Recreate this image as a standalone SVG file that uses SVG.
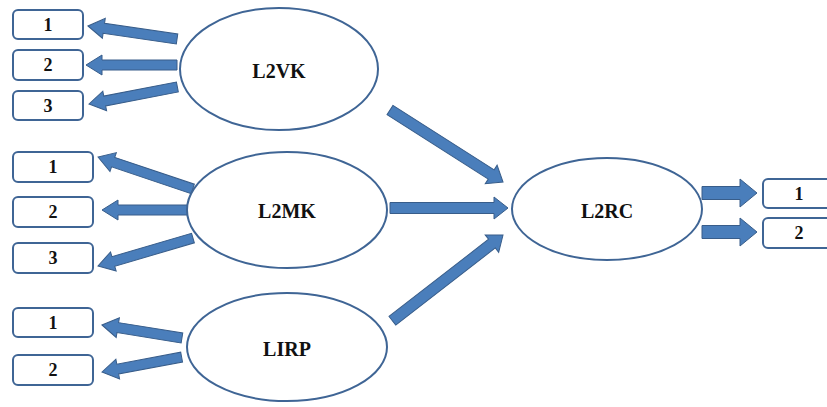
<svg xmlns="http://www.w3.org/2000/svg" width="827" height="407" viewBox="0 0 827 407">
<style>
.ell{fill:#fff;stroke:#3f6595;stroke-width:2}
.box{fill:#fff;stroke:#3f6595;stroke-width:2}
.lab{font-family:"Liberation Serif","Times New Roman",serif;font-weight:bold;font-size:20px;text-anchor:middle;fill:#111}
.num{font-family:"Liberation Serif","Times New Roman",serif;font-weight:bold;font-size:18px;text-anchor:middle;fill:#111}
.arr{fill:#4a7ebb;stroke:#385d8a;stroke-width:1}
</style>
<rect width="827" height="407" fill="#fff"/>
<g id="connectors">
<path class="arr" transform="translate(88,26) rotate(188.3)" d="M0,0 L-16,-10 L-16,-5 L-90,-5 L-90,5 L-16,5 L-16,10 Z"/>
<path class="arr" transform="translate(86,65) rotate(180)" d="M0,0 L-16,-10 L-16,-5 L-91,-5 L-91,5 L-16,5 L-16,10 Z"/>
<path class="arr" transform="translate(89,104) rotate(169.1)" d="M0,0 L-16,-10 L-16,-5 L-90,-5 L-90,5 L-16,5 L-16,10 Z"/>
<path class="arr" transform="translate(98,157) rotate(198.6)" d="M0,0 L-16,-10 L-16,-5 L-100,-5 L-100,5 L-16,5 L-16,10 Z"/>
<path class="arr" transform="translate(102,210) rotate(180)" d="M0,0 L-16,-10 L-16,-5 L-88,-5 L-88,5 L-16,5 L-16,10 Z"/>
<path class="arr" transform="translate(98,266) rotate(163.6)" d="M0,0 L-16,-10 L-16,-5 L-99,-5 L-99,5 L-16,5 L-16,10 Z"/>
<path class="arr" transform="translate(102,325) rotate(189.2)" d="M0,0 L-16,-10 L-16,-5 L-81,-5 L-81,5 L-16,5 L-16,10 Z"/>
<path class="arr" transform="translate(102,372) rotate(169.4)" d="M0,0 L-16,-10 L-16,-5 L-81,-5 L-81,5 L-16,5 L-16,10 Z"/>
<path class="arr" transform="translate(503,182) rotate(32.5)" d="M0,0 L-14,-11 L-14,-5.5 L-134,-5.5 L-134,5.5 L-14,5.5 L-14,11 Z"/>
<path class="arr" transform="translate(508,208)" d="M0,0 L-14,-11 L-14,-5.5 L-118,-5.5 L-118,5.5 L-14,5.5 L-14,11 Z"/>
<path class="arr" transform="translate(503,235) rotate(-37.8)" d="M0,0 L-14,-11 L-14,-5.5 L-140,-5.5 L-140,5.5 L-14,5.5 L-14,11 Z"/>
<path class="arr" transform="translate(757,193)" d="M0,0 L-17,-14 L-17,-6.5 L-55,-6.5 L-55,6.5 L-17,6.5 L-17,14 Z"/>
<path class="arr" transform="translate(757,232)" d="M0,0 L-17,-14 L-17,-6.5 L-55,-6.5 L-55,6.5 L-17,6.5 L-17,14 Z"/>
</g>
<g id="L2VK"><ellipse class="ell" cx="279" cy="69" rx="99" ry="61"/><text class="lab" x="279" y="78">L2VK</text></g>
<g id="L2MK"><ellipse class="ell" cx="287" cy="210" rx="100" ry="58"/><text class="lab" x="287" y="218">L2MK</text></g>
<g id="LIRP"><ellipse class="ell" cx="287" cy="347" rx="100" ry="54"/><text class="lab" x="287" y="356">LIRP</text></g>
<g id="L2RC"><ellipse class="ell" cx="607" cy="209" rx="95" ry="51"/><text class="lab" x="607" y="218">L2RC</text></g>
<g id="vk1"><rect class="box" x="13" y="10" width="70" height="29" rx="5"/><text class="num" x="48" y="31">1</text></g>
<g id="vk2"><rect class="box" x="13" y="50" width="70" height="30" rx="5"/><text class="num" x="48" y="71">2</text></g>
<g id="vk3"><rect class="box" x="13" y="91" width="70" height="29" rx="5"/><text class="num" x="48" y="112">3</text></g>
<g id="mk1"><rect class="box" x="13" y="152" width="80" height="30" rx="5"/><text class="num" x="53" y="173">1</text></g>
<g id="mk2"><rect class="box" x="13" y="197" width="80" height="30" rx="5"/><text class="num" x="53" y="218">2</text></g>
<g id="mk3"><rect class="box" x="13" y="243" width="80" height="30" rx="5"/><text class="num" x="53" y="264">3</text></g>
<g id="rp1"><rect class="box" x="13" y="308" width="80" height="29" rx="5"/><text class="num" x="53" y="329">1</text></g>
<g id="rp2"><rect class="box" x="13" y="355" width="80" height="30" rx="5"/><text class="num" x="53" y="376">2</text></g>
<g id="rc1"><rect class="box" x="763" y="179" width="80" height="29" rx="5"/><text class="num" x="799" y="200">1</text></g>
<g id="rc2"><rect class="box" x="763" y="218" width="80" height="30" rx="5"/><text class="num" x="799" y="239">2</text></g>
</svg>
